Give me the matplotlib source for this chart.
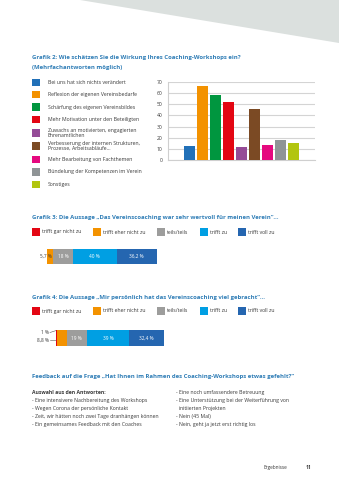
import matplotlib
matplotlib.use("Agg")
import matplotlib.pyplot as plt
from matplotlib.patches import Rectangle, Polygon

plt.rcParams['font.family'] = ['Open Sans', 'DejaVu Sans']

W, H = 339, 480
BLUE_T = '#2f7db6'
TXT = '#3a3a3a'

# ---- data ----
g2_title = ["Grafik 2: Wie schätzen Sie die Wirkung Ihres Coaching-Workshops ein?",
            "(Mehrfachantworten möglich)"]
g2_labels = ["Bei uns hat sich nichts verändert",
             "Reflexion der eigenen Vereinsbedarfe",
             "Schärfung des eigenen Vereinsbildes",
             "Mehr Motivation unter den Beteiligten",
             "Zuwachs an motivierten, engagierten\nEhrenamtlichen",
             "Verbesserung der internen Strukturen,\nProzesse, Arbeitsabläufe…",
             "Mehr Bearbeitung von Fachthemen",
             "Bündelung der Kompetenzen im Verein",
             "Sonstiges"]
g2_values = [13, 66, 58, 52, 12, 46, 14, 18, 15]
g2_colors = ['#2170b8', '#f39200', '#00963f', '#e30613', '#954b97',
             '#7b4a24', '#e5097f', '#8f9496', '#b2c50f']
g2_yticks = [0, 10, 20, 30, 40, 50, 60, 70]

scale_labels = ["trifft gar nicht zu", "trifft eher nicht zu", "teils/teils",
                "trifft zu", "trifft voll zu"]
scale_colors = ['#e30613', '#f39200', '#9d9d9c', '#009fe3', '#2566b0']

g3_title = "Grafik 3: Die Aussage „Das Vereinscoaching war sehr wertvoll für meinen Verein“…"
g3_values = [0, 5.7, 18, 40, 36.2]
g3_texts = ["", "5,7 %", "18 %", "40 %", "36,2 %"]

g4_title = "Grafik 4: Die Aussage „Mir persönlich hat das Vereinscoaching viel gebracht“…"
g4_values = [1, 8.8, 19, 39, 32.4]
g4_texts = ["1 %", "8,8 %", "19 %", "39 %", "32,4 %"]

fb_title = "Feedback auf die Frage „Hat Ihnen im Rahmen des Coaching-Workshops etwas gefehlt?“"
fb_head = "Auswahl aus den Antworten:"
fb_left = ["- Eine intensivere Nachbereitung des Workshops",
           "- Wegen Corona der persönliche Kontakt",
           "- Zeit, wir hätten noch zwei Tage dranhängen können",
           "- Ein gemeinsames Feedback mit den Coaches"]
fb_right = ["- Eine noch umfassendere Betreuung",
            "- Eine Unterstützung bei der Weiterführung von",
            "  initiierten Projekten",
            "- Nein (45 Mal)",
            "- Nein, geht ja jetzt erst richtig los"]

fig = plt.figure(figsize=(3.39, 4.8), dpi=100)
fig.patch.set_facecolor('white')

def fax(l, t, r, b):
    return fig.add_axes([l / W, 1 - b / H, (r - l) / W, (b - t) / H])

# page overlay
ax0 = fig.add_axes([0, 0, 1, 1])
ax0.set_xlim(0, W); ax0.set_ylim(H, 0); ax0.axis('off')
ax0.add_patch(Polygon([(80, 0), (W, 0), (W, 43)], closed=True,
                      facecolor='#dbe0de', edgecolor='none'))

TS = 4.3   # title size
BS = 3.7   # body size

# Grafik 2
ax0.text(32, 58, g2_title[0], fontsize=TS, fontweight='bold', color=BLUE_T, va='center')
ax0.text(32, 67, g2_title[1], fontsize=TS, fontweight='bold', color=BLUE_T, va='center')
leg_y = [82.3, 94.5, 107, 119.5, 132.7, 146, 159.3, 171.7, 184.3]
for y, lab, c in zip(leg_y, g2_labels, g2_colors):
    ax0.add_patch(Rectangle((32, y - 3.7), 7.5, 7.5, facecolor=c, edgecolor='none'))
    ax0.text(48, y, lab, fontsize=BS, color=TXT, va='center', linespacing=0.95)

ax2 = fax(168, 81.7, 315, 160.3)
x = list(range(len(g2_values)))
ax2.bar(x, g2_values, width=0.85, color=g2_colors, zorder=3)
ax2.set_xlim(-1.65, 9.68)
ax2.set_ylim(0, 70)
ax2.set_yticks(g2_yticks)
ax2.set_yticklabels([str(v) for v in g2_yticks], fontsize=3.6, color=TXT)
ax2.set_xticks([])
ax2.tick_params(axis='y', length=0, pad=4)
ax2.grid(axis='y', color='#d4d4d4', linewidth=0.8, zorder=0)
for s in ['top', 'right']:
    ax2.spines[s].set_visible(False)
for s in ['left', 'bottom']:
    ax2.spines[s].set_color('#cfcfcf'); ax2.spines[s].set_linewidth(0.8)
ax2.set_facecolor('none')

# scale legend helper
def scale_legend(y):
    xs = [32, 93, 157, 200, 238]
    for xx, lab, c in zip(xs, scale_labels, scale_colors):
        ax0.add_patch(Rectangle((xx, y - 3.7), 7.5, 7.5, facecolor=c, edgecolor='none'))
        ax0.text(xx + 10, y, lab, fontsize=BS, color=TXT, va='center')

def stacked(l, t, r, b, vals, texts):
    ax = fax(l, t, r, b)
    left = 0
    for i, (v, c, tx) in enumerate(zip(vals, scale_colors, texts)):
        if v > 0:
            ax.barh(0, v, left=left, height=1, color=c)
            if i >= 2 and tx:
                ax.text(left + v / 2, 0, tx, fontsize=3.4, color='white',
                        ha='center', va='center')
        left += v
    ax.set_xlim(0, sum(vals)); ax.set_ylim(-0.5, 0.5)
    ax.axis('off')
    return ax

# Grafik 3
ax0.text(32, 217.7, g3_title, fontsize=TS, fontweight='bold', color=BLUE_T, va='center')
scale_legend(232)
ax3 = stacked(46.7, 248.7, 156.7, 264, g3_values, g3_texts)
ax3.text(sum(g3_values[:2]) - 0.8, 0, g3_texts[1], fontsize=3.4, color=TXT,
         ha='right', va='center', clip_on=False, zorder=5)

# Grafik 4
ax0.text(32, 297.7, g4_title, fontsize=TS, fontweight='bold', color=BLUE_T, va='center')
scale_legend(311)
ax4 = stacked(56, 330, 164, 346, g4_values, g4_texts)
ax0.text(49, 332, g4_texts[0], fontsize=3.4, color=TXT, ha='right', va='center')
ax0.plot([50, 56.3], [332.5, 330.5], color='#555555', lw=0.4)
ax0.text(49, 340, g4_texts[1], fontsize=3.4, color=TXT, ha='right', va='center')
ax0.plot([50, 57.5], [340, 340], color='#555555', lw=0.4)

# Feedback
ax0.text(32, 376.7, fb_title, fontsize=TS, fontweight='bold', color=BLUE_T, va='center')
ax0.text(32, 392.7, fb_head, fontsize=BS, fontweight='bold', color=TXT, va='center')
for i, line in enumerate(fb_left):
    ax0.text(32, 400.7 + 8 * i, line, fontsize=BS, color=TXT, va='center')
for i, line in enumerate(fb_right):
    ax0.text(176, 392.7 + 8 * i, line, fontsize=BS, color=TXT, va='center')

ax0.text(263, 467.3, "Ergebnisse", fontsize=3.4, color=TXT, va='center')
ax0.text(306, 467.3, "11", fontsize=3.6, fontweight='bold', color=TXT, va='center')

fig.savefig('out.png', dpi=100, facecolor='white')
